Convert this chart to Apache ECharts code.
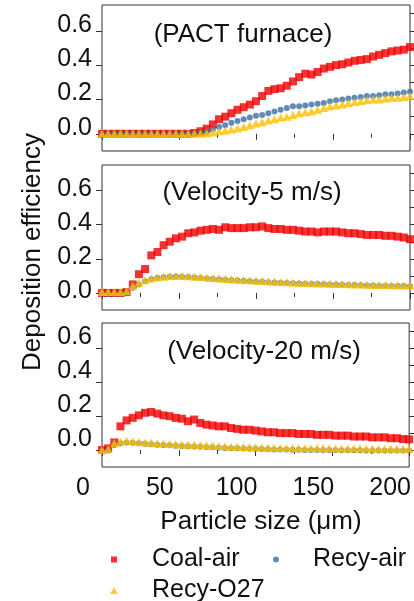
<!DOCTYPE html>
<html><head><meta charset="utf-8">
<script src="https://cdn.jsdelivr.net/npm/echarts@6/dist/echarts.min.js"></script>
<style>html,body{margin:0;padding:0;background:#fff}#c{width:414px;height:601px}</style>
</head><body><div id="c"></div>
<script>
// Particle size (um)
const particleSize = [0,4,8,12,16,20,24,28,32,36,40,44,48,52,56,60,64,68,72,76,80,84,88,92,96,100,104,108,112,116,120,124,128,132,136,140,144,148,152,156,160,164,168,172,176,180,184,188,192,196,200];

// Panel 1: PACT furnace
const pactCoal = [0,0,0,0,0,0,0,0,0,0,0,0,0,0,0,0.005,0.015,0.03,0.055,0.085,0.10,0.12,0.14,0.155,0.17,0.19,0.22,0.25,0.26,0.265,0.28,0.305,0.33,0.35,0.345,0.36,0.38,0.39,0.40,0.405,0.415,0.425,0.43,0.435,0.45,0.46,0.47,0.48,0.485,0.49,0.505];
const pactRecyAir = [0,0,0,0,0,0,0,0,0,0,0,0,0,0,0,0,0.003,0.01,0.025,0.04,0.05,0.065,0.075,0.085,0.095,0.105,0.11,0.12,0.13,0.14,0.15,0.16,0.16,0.165,0.17,0.175,0.18,0.19,0.195,0.20,0.205,0.21,0.215,0.22,0.22,0.225,0.23,0.23,0.235,0.24,0.245];
const pactRecyO27 = [0,0,0,0,0,0,0,0,0,0,0,0,0,0,0,0,0,0.003,0.008,0.015,0.02,0.025,0.033,0.04,0.05,0.06,0.068,0.077,0.085,0.095,0.10,0.11,0.12,0.125,0.13,0.14,0.15,0.16,0.165,0.17,0.18,0.185,0.19,0.195,0.20,0.20,0.205,0.21,0.21,0.215,0.22];

// Panel 2: Velocity 5 m/s
const v5Coal = [0,0,0,0,0.005,0.05,0.11,0.14,0.22,0.24,0.28,0.30,0.32,0.33,0.35,0.355,0.365,0.37,0.375,0.37,0.385,0.38,0.38,0.38,0.385,0.385,0.39,0.38,0.375,0.375,0.37,0.37,0.365,0.36,0.36,0.355,0.36,0.36,0.36,0.355,0.35,0.35,0.345,0.34,0.34,0.34,0.335,0.335,0.33,0.325,0.315];
const v5RecyAir = [-0.005,-0.005,-0.005,-0.003,0.0,0.03,0.05,0.068,0.08,0.087,0.092,0.095,0.096,0.095,0.093,0.09,0.088,0.085,0.082,0.08,0.077,0.075,0.073,0.071,0.069,0.067,0.065,0.063,0.061,0.06,0.058,0.057,0.055,0.054,0.053,0.052,0.051,0.05,0.049,0.048,0.047,0.046,0.045,0.044,0.043,0.042,0.042,0.041,0.04,0.04,0.039];
const v5RecyO27 = [0.005,0.005,0.005,0.005,0.01,0.04,0.06,0.075,0.085,0.09,0.095,0.10,0.10,0.10,0.098,0.095,0.093,0.09,0.088,0.085,0.082,0.08,0.078,0.076,0.074,0.072,0.07,0.068,0.066,0.064,0.063,0.061,0.06,0.058,0.057,0.056,0.055,0.054,0.053,0.052,0.051,0.05,0.049,0.048,0.047,0.046,0.046,0.045,0.044,0.044,0.043];

// Panel 3: Velocity 20 m/s
const v20Coal = [0,0.01,0.045,0.14,0.175,0.19,0.205,0.22,0.225,0.215,0.205,0.20,0.19,0.185,0.17,0.18,0.16,0.15,0.145,0.14,0.14,0.13,0.125,0.12,0.12,0.115,0.11,0.105,0.105,0.10,0.10,0.10,0.095,0.095,0.095,0.09,0.09,0.09,0.085,0.085,0.085,0.08,0.08,0.08,0.075,0.075,0.075,0.07,0.07,0.065,0.063];
const v20RecyAir = [-0.005,-0.003,0.03,0.04,0.045,0.043,0.04,0.037,0.035,0.032,0.03,0.028,0.026,0.024,0.022,0.021,0.02,0.018,0.016,0.014,0.012,0.011,0.01,0.009,0.008,0.007,0.006,0.005,0.004,0.003,0.003,0.002,0.002,0.001,0.001,0,0,0,0,-0.001,-0.001,-0.001,-0.001,-0.002,-0.002,-0.002,-0.002,-0.002,-0.002,-0.002,-0.002];
const v20RecyO27 = [0,0.005,0.04,0.05,0.055,0.052,0.048,0.045,0.043,0.04,0.038,0.036,0.035,0.033,0.032,0.031,0.03,0.028,0.026,0.024,0.022,0.02,0.019,0.018,0.017,0.016,0.015,0.014,0.013,0.012,0.012,0.011,0.011,0.01,0.01,0.01,0.01,0.01,0.009,0.009,0.009,0.009,0.009,0.009,0.008,0.008,0.008,0.008,0.008,0.008,0.008];

const panelTitles = ['(PACT furnace)', '(Velocity-5 m/s)', '(Velocity-20 m/s)'];
const seriesNames = ['Coal-air', 'Recy-air', 'Recy-O27'];
const yTickLabels = [0, 0.2, 0.4, 0.6];
const yMinorTicks = [0, 0.1, 0.2, 0.3, 0.4, 0.5, 0.6, 0.7];
const xTickLabels = [0, 50, 100, 150, 200];

const FONT = '"Liberation Sans", Arial, sans-serif';
const INK = '#111';
const RED = '#F00000', BLUE = '#3A6EA5', GOLD = '#FFC000';

const panelData = [
  [pactCoal, pactRecyAir, pactRecyO27],
  [v5Coal, v5RecyAir, v5RecyO27],
  [v20Coal, v20RecyAir, v20RecyO27]
];
const gridBoxes = [{top:5,height:146},{top:165,height:145},{top:323,height:144}];
const labelLift = [12, 3, 22]; // bottom padding of label token: lifts the y labels as in the reference
const titlePos = [[243, 35], [252, 193], [264, 352]];

const grid = [], xAxis = [], yAxis = [], series = [], graphic = [];
gridBoxes.forEach((g, i) => {
  grid.push({left:102, width:308, top:g.top, height:g.height, show:true, borderColor:'#333', borderWidth:1, backgroundColor:'transparent'});
  xAxis.push({
    type:'value', gridIndex:i, min:0, max:200, interval:50,
    axisLine:{show:false},
    axisTick:{show:true, length:6, lineStyle:{color:'#333', width:1}},
    minorTick:{show:true, splitNumber:2, length:4, lineStyle:{color:'#333', width:1}},
    splitLine:{show:false}, minorSplitLine:{show:false},
    axisLabel:{show: i===2, fontFamily:FONT, fontSize:25, color:INK, margin:9, padding:[0,38,0,0],
      showMinLabel:true, showMaxLabel:true, hideOverlap:false,
      customValues: xTickLabels, formatter: v => String(v)}
  });
  yAxis.push({
    type:'value', gridIndex:i, min:-0.1, max:0.75, position:'left',
    axisLine:{show:false},
    axisTick:{show:true, length:6, customValues: yTickLabels, lineStyle:{color:'#333'}},
    splitLine:{show:false},
    axisLabel:{show:true, customValues: yTickLabels, margin:10,
      showMinLabel:true, showMaxLabel:true, hideOverlap:false,
      formatter: v => '{t|' + v.toFixed(1) + '}',
      rich:{t:{fontFamily:FONT, fontSize:25, color:INK, padding:[0,0,labelLift[i],0]}}}
  });
  yAxis.push({
    type:'value', gridIndex:i, min:-0.1, max:0.75, position:'right',
    axisLine:{show:false},
    axisTick:{show:true, length:5, customValues: yMinorTicks, lineStyle:{color:'#333'}},
    splitLine:{show:false}, axisLabel:{show:false}
  });
  const [coal, air, o27] = panelData[i];
  series.push({name:seriesNames[0], type:'scatter', xAxisIndex:i, yAxisIndex:2*i, symbol:'rect', symbolSize:8,
    itemStyle:{color:RED}, data: particleSize.map((x, j) => [x, coal[j]]), z:2});
  series.push({name:seriesNames[1], type:'scatter', xAxisIndex:i, yAxisIndex:2*i, symbol:'circle', symbolSize:6,
    itemStyle:{color:BLUE}, data: particleSize.map((x, j) => [x, air[j]]), z:3});
  series.push({name:seriesNames[2], type:'scatter', xAxisIndex:i, yAxisIndex:2*i, symbol:'triangle', symbolSize:[9,8],
    itemStyle:{color:GOLD}, data: particleSize.map((x, j) => [x, o27[j]]), z:4});
  graphic.push({type:'text', x:titlePos[i][0], y:titlePos[i][1], z:10,
    style:{text:panelTitles[i], font:'26px ' + FONT, fill:INK, align:'center', verticalAlign:'middle', textAlign:'center', textVerticalAlign:'middle'}});
});

graphic.push({type:'text', x:261, y:522,
  style:{text:'Particle size (\u03BCm)', font:'26px ' + FONT, fill:INK, align:'center', verticalAlign:'middle', textAlign:'center', textVerticalAlign:'middle'}});
graphic.push({type:'text', x:33, y:252, rotation:Math.PI/2,
  style:{text:'Deposition efficiency', font:'26px ' + FONT, fill:INK, align:'center', verticalAlign:'middle', textAlign:'center', textVerticalAlign:'middle'}});

const legendText = {fontFamily:FONT, fontSize:25, color:INK};
const legend = [
  {data:[{name:'Coal-air', icon:'rect'}], left:111, top:547, padding:0, itemWidth:6, itemHeight:6, selectedMode:false,
    textStyle:Object.assign({padding:[0,0,0,30]}, legendText)},
  {data:[{name:'Recy-air', icon:'circle'}], left:273, top:547, padding:0, itemWidth:6, itemHeight:6, selectedMode:false,
    textStyle:Object.assign({padding:[0,0,0,29]}, legendText)},
  {data:[{name:'Recy-O27', icon:'triangle'}], left:110, top:578, padding:0, itemWidth:8, itemHeight:7, selectedMode:false,
    textStyle:Object.assign({padding:[0,0,0,29]}, legendText)}
];

const chart = echarts.init(document.getElementById('c'), null, {renderer:'canvas'});
chart.setOption({backgroundColor:'#fff', animation:false, grid, xAxis, yAxis, series, legend, graphic});
</script></body></html>
